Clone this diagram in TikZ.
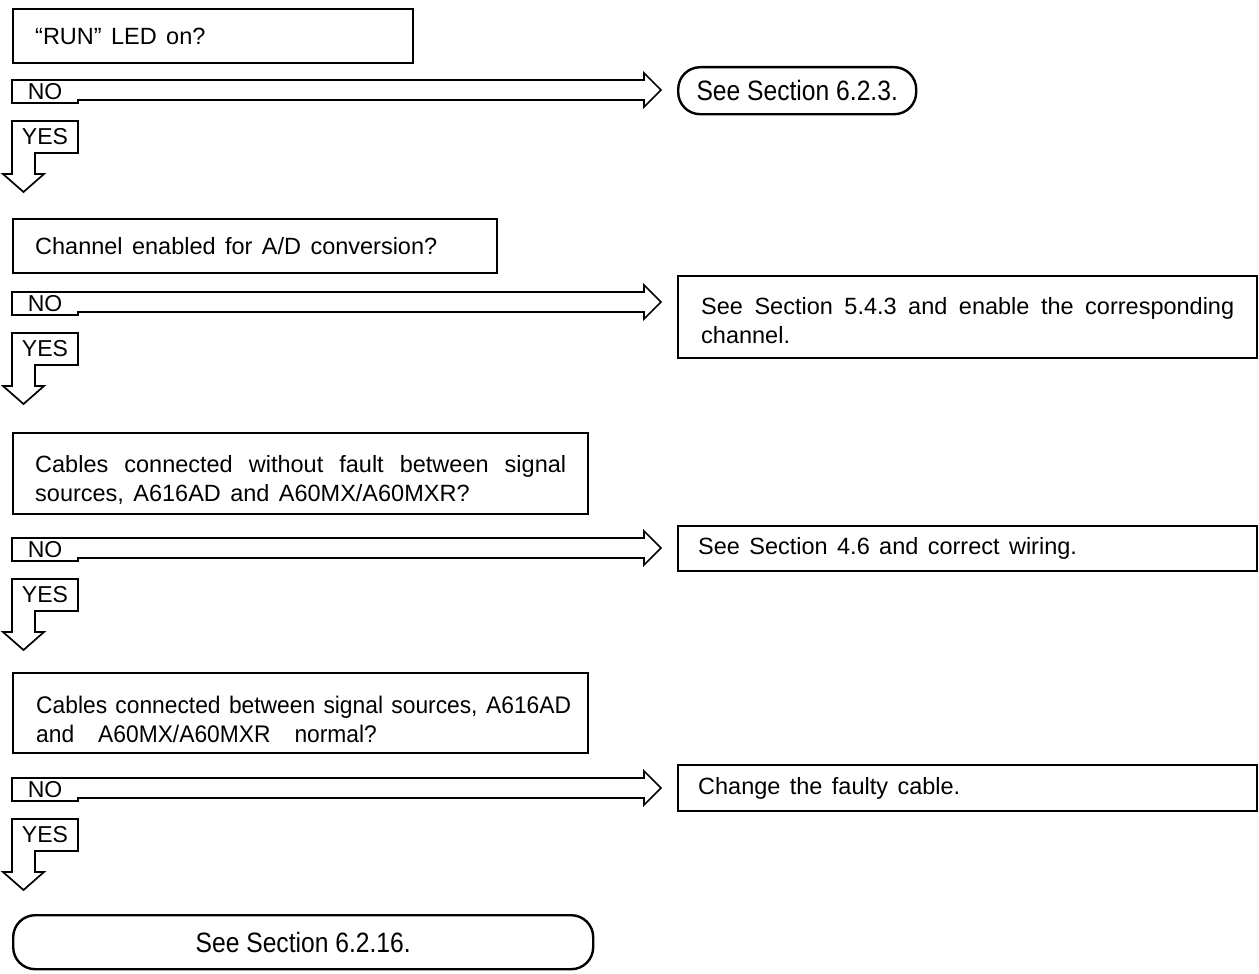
\documentclass[tikz,border=0pt]{standalone}
\usepackage{fontspec}
\setmainfont{Liberation Sans}
\newfontfamily\condfont{Liberation Sans}[FakeStretch=0.95]
\newfontfamily\stadfont{Liberation Sans}[FakeStretch=0.88]
\newcommand\bodyfont{\fontsize{23.5}{28.5}\selectfont}
\newcommand\narrowfont{\condfont\fontsize{24}{28.5}\selectfont}
\newcommand\roundfont{\stadfont\fontsize{28}{30}\selectfont}
\newcommand\wsp{\spaceskip=0.4em plus 0.5em minus 0.05em\relax}
\newcommand\nsp{\spaceskip=0.3em plus 0.5em minus 0.05em\relax}
\newcommand\flowbranch[2]{%
  \node[lbl] (no#2) at (45,#1+12) {NO};
  \node[lbl] (yes#2) at (45,#1+57) {YES};
  \coordinate (tip#2) at (661,#1+10);
  \coordinate (down#2) at (23.5,#1+112);
  \draw[outline] (12,#1+23) -- (12,#1) -- (644,#1) -- (644,#1-7) -- (tip#2)
     -- (644,#1+27) -- (644,#1+20) -- (78,#1+20) -- (78,#1+23) -- cycle;
  \draw[outline] (12,#1+41) -- (78,#1+41) -- (78,#1+73) -- (35,#1+73)
     -- (35,#1+94) -- (44,#1+94) -- (down#2) -- (3,#1+94) -- (12,#1+94) -- cycle;
}
\begin{document}
\begin{tikzpicture}[x=1pt,y=-1pt,
  frame/.style={draw, line width=2.4pt, anchor=north west, inner sep=0pt, align=left, font=\bodyfont},
  stadium/.style={frame, rounded corners=22pt, align=center, font=\roundfont},
  outline/.style={draw, line width=1.7pt, line join=miter},
  lbl/.style={font=\fontsize{23}{24}\selectfont, inner sep=0pt}]
\useasboundingbox (0,0) rectangle (1259,974);

% question boxes
\node[frame, minimum width=400pt, minimum height=54pt, text width=356pt] (q1) at (12,8)
  {\wsp ``RUN'' LED on?};
\node[frame, minimum width=484pt, minimum height=54pt, text width=440pt] (q2) at (12,218)
  {\wsp Channel enabled for A/D conversion?};
\node[frame, minimum width=575pt, minimum height=81pt, text width=531pt] (q3) at (12,432)
  {\wsp\rule{0pt}{30pt}\makebox[531pt][s]{Cables connected without fault between signal}\\
   sources, A616AD and A60MX/A60MXR?};
\node[frame, minimum width=575pt, minimum height=80pt, text width=541pt, font=\narrowfont] (q4) at (12,672)
  {\nsp\rule{0pt}{30pt}\hspace*{6pt}\makebox[535pt][s]{Cables connected between signal sources, A616AD}\\
   \hspace*{6pt}and\hspace{1em}A60MX/A60MXR\hspace{1em}normal?};

% result boxes
\node[stadium, minimum width=238pt, minimum height=47pt] (r1) at (677,66)
  {See Section 6.2.3.};
\node[frame, minimum width=579pt, minimum height=82pt, text width=533pt] (r2) at (677,275)
  {\wsp\rule{0pt}{24pt}\makebox[533pt][s]{See Section 5.4.3 and enable the corresponding}\\ channel.};
\node[frame, minimum width=579pt, minimum height=45pt, text width=539pt] (r3) at (677,525)
  {\wsp See Section 4.6 and correct wiring.};
\node[frame, minimum width=579pt, minimum height=46pt, text width=539pt] (r4) at (677,764)
  {\wsp Change the faulty cable.};
\node[stadium, minimum width=580pt, minimum height=54pt] (end) at (12,914)
  {See Section 6.2.16.};

% branches
\flowbranch{80}{1}
\flowbranch{292}{2}
\flowbranch{538}{3}
\flowbranch{778}{4}
\end{tikzpicture}
\end{document}
